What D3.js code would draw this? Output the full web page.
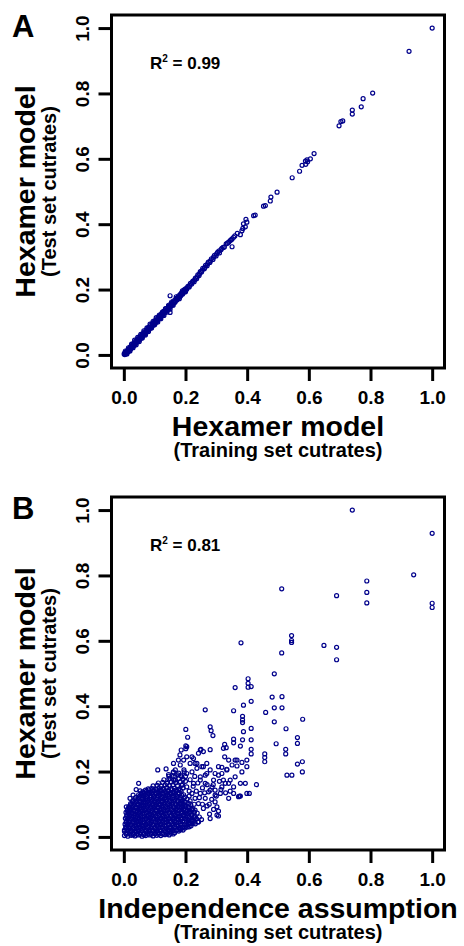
<!DOCTYPE html>
<html>
<head>
<meta charset="utf-8">
<script src="https://cdn.jsdelivr.net/npm/d3@7"></script>
<style>
    body { margin: 0; background: #fff; }
    text { font-family: "Liberation Sans", Arial, Helvetica, sans-serif; font-weight: bold; fill: #000; }
</style>
</head>
<body>
<div id="chart"></div>
<script>
const tickValues = [0, 0.2, 0.4, 0.6, 0.8, 1.0];
const panelLetters = ["A", "B"];
const rSquared = ["0.99", "0.81"];
const xTitles = ["Hexamer model", "Independence assumption"];
const xSubtitle = "(Training set cutrates)";
const yTitle = "Hexamer model";
const ySubtitle = "(Test set cutrates)";

// panel A: [hexamer model on training set, hexamer model on test set]
const hexamerPoints = [
    [0.001,0.003],[0.003,0.001],[0.004,0.007],[0.006,0.003],[0.008,0.010],[0.009,0.005],[0.011,0.008],[0.012,0.014],
    [0.014,0.010],[0.016,0.018],[0.017,0.013],[0.019,0.016],[0.021,0.024],[0.022,0.018],[0.024,0.021],[0.026,0.029],
    [0.027,0.023],[0.029,0.027],[0.031,0.035],[0.033,0.029],[0.035,0.032],[0.036,0.041],[0.038,0.034],[0.040,0.038],
    [0.042,0.046],[0.044,0.040],[0.046,0.043],[0.048,0.052],[0.050,0.046],[0.052,0.049],[0.054,0.058],[0.056,0.051],
    [0.058,0.055],[0.060,0.064],[0.062,0.058],[0.064,0.061],[0.066,0.070],[0.068,0.064],[0.070,0.067],[0.072,0.076],
    [0.075,0.070],[0.077,0.074],[0.079,0.083],[0.081,0.077],[0.083,0.080],[0.086,0.090],[0.088,0.084],[0.090,0.087],
    [0.092,0.096],[0.095,0.091],[0.097,0.094],[0.100,0.104],[0.102,0.097],[0.104,0.101],[0.107,0.111],[0.109,0.105],
    [0.112,0.109],[0.114,0.118],[0.117,0.112],[0.119,0.116],[0.122,0.126],[0.124,0.120],[0.127,0.124],[0.129,0.133],
    [0.132,0.128],[0.134,0.131],[0.137,0.141],[0.140,0.136],[0.142,0.139],[0.145,0.149],[0.148,0.144],[0.150,0.147],
    [0.153,0.157],[0.156,0.152],[0.158,0.155],[0.161,0.165],[0.164,0.160],[0.167,0.163],[0.170,0.173],[0.172,0.168],
    [0.175,0.172],[0.178,0.181],[0.181,0.177],[0.184,0.180],[0.187,0.190],[0.190,0.186],[0.192,0.189],[0.195,0.198],
    [0.198,0.194],[0.201,0.203],
    [0.005,0.012],[0.010,0.003],[0.015,0.022],[0.020,0.012],[0.025,0.033],[0.030,0.022],[0.035,0.045],[0.040,0.031],
    [0.045,0.054],[0.050,0.041],[0.055,0.063],[0.060,0.052],[0.065,0.074],[0.070,0.061],[0.075,0.083],[0.080,0.072],
    [0.085,0.094],[0.090,0.082],[0.095,0.103],[0.100,0.092],[0.105,0.114],[0.110,0.101],[0.115,0.122],[0.120,0.111],
    [0.125,0.131],[0.130,0.121],[0.135,0.142],[0.140,0.131],[0.145,0.152],[0.150,0.140],[0.155,0.162],[0.160,0.152],
    [0.170,0.178],[0.180,0.172],[0.190,0.196],[0.200,0.193],[0.150,0.181],[0.150,0.130],
    [0.003,0.005],[0.007,0.006],[0.013,0.011],[0.018,0.020],[0.023,0.026],[0.028,0.025],[0.032,0.031],[0.037,0.037],
    [0.043,0.042],[0.047,0.048],[0.053,0.054],[0.057,0.057],[0.063,0.065],[0.067,0.066],[0.073,0.072],[0.078,0.079],
    [0.082,0.084],[0.087,0.086],[0.093,0.092],[0.098,0.099],[0.103,0.104],[0.108,0.107],[0.113,0.113],[0.118,0.119],
    [0.123,0.122],[0.128,0.129],[0.133,0.134],[0.138,0.137],[0.143,0.144],[0.147,0.148],[0.152,0.151],[0.157,0.158],
    [0.162,0.161],[0.166,0.168],[0.171,0.170],[0.176,0.177],[0.183,0.185],[0.188,0.187],[0.193,0.193],[0.197,0.200],
    [0.204,0.201],[0.208,0.210],[0.212,0.208],[0.216,0.219],[0.220,0.217],[0.224,0.226],[0.228,0.224],[0.232,0.235],
    [0.236,0.233],[0.240,0.245],[0.244,0.243],[0.248,0.255],[0.252,0.254],[0.256,0.265],[0.261,0.264],[0.265,0.274],
    [0.270,0.273],[0.274,0.284],[0.279,0.283],[0.284,0.294],[0.289,0.292],[0.294,0.305],[0.299,0.303],[0.304,0.314],
    [0.310,0.312],[0.315,0.322],[0.318,0.326],[0.326,0.330],[0.332,0.340],[0.340,0.345],[0.345,0.350],[0.351,0.355],
    [0.206,0.206],[0.214,0.213],[0.222,0.222],[0.230,0.230],[0.238,0.239],[0.246,0.249],[0.254,0.259],[0.263,0.268],
    [0.272,0.279],[0.281,0.288],[0.291,0.299],[0.301,0.309],[0.308,0.318],[0.322,0.329],[0.336,0.342],[0.348,0.352],
    [0.360,0.364],[0.368,0.372],
    [0.351,0.331],[0.356,0.360],[0.378,0.368],[0.383,0.380],[0.386,0.387],[0.394,0.392],[0.388,0.401],[0.399,0.406],
    [0.396,0.415],[0.421,0.426],[0.426,0.428],[0.453,0.455],[0.459,0.457],[0.475,0.471],[0.477,0.483],[0.497,0.498],
    [0.546,0.542],[0.570,0.562],[0.578,0.580],[0.590,0.583],[0.596,0.591],[0.589,0.593],[0.594,0.597],[0.605,0.600],
    [0.617,0.616],[0.698,0.701],[0.704,0.714],[0.710,0.716],[0.741,0.737],[0.741,0.749],[0.770,0.759],[0.776,0.784],
    [0.807,0.801],[0.925,0.929],[1.000,1.000]
];

// panel B: [independence assumption on training set, hexamer model on test set]
const independencePoints = [
    [0.002,0.004],[0.013,0.002],[0.024,0.005],[0.036,0.003],[0.047,0.006],[0.059,0.002],[0.071,0.004],[0.083,0.006],
    [0.095,0.003],[0.107,0.005],[0.120,0.004],[0.133,0.007],[0.147,0.006],[0.160,0.009],
    [0.008,0.008],[0.019,0.009],[0.030,0.007],[0.042,0.009],[0.053,0.008],[0.065,0.007],[0.077,0.009],[0.089,0.008],
    [0.101,0.010],[0.113,0.008],[0.126,0.009],[0.140,0.010],[0.153,0.011],
    [0.007,0.012],[0.018,0.014],[0.030,0.011],[0.041,0.015],[0.053,0.013],[0.065,0.011],[0.077,0.014],[0.089,0.012],
    [0.101,0.015],[0.113,0.013],[0.126,0.011],[0.139,0.014],[0.152,0.016],[0.165,0.013],[0.178,0.018],[0.192,0.021],
    [0.002,0.017],[0.013,0.018],[0.024,0.016],[0.036,0.018],[0.047,0.017],[0.059,0.019],[0.071,0.016],[0.083,0.018],
    [0.095,0.017],[0.107,0.019],[0.119,0.017],[0.132,0.019],[0.145,0.018],[0.158,0.019],[0.171,0.020],[0.185,0.022],
    [0.002,0.021],[0.012,0.023],[0.024,0.020],[0.035,0.024],[0.047,0.022],[0.059,0.025],[0.071,0.021],[0.083,0.023],
    [0.095,0.020],[0.107,0.024],[0.119,0.022],[0.132,0.025],[0.145,0.021],[0.158,0.024],[0.171,0.022],[0.184,0.026],
    [0.198,0.027],[0.212,0.031],
    [0.007,0.026],[0.018,0.027],[0.030,0.025],[0.041,0.027],[0.053,0.026],[0.065,0.028],[0.077,0.025],[0.089,0.027],
    [0.101,0.026],[0.113,0.028],[0.126,0.026],[0.139,0.028],[0.152,0.026],[0.165,0.028],[0.178,0.027],[0.191,0.029],
    [0.205,0.030],
    [0.006,0.030],[0.017,0.032],[0.029,0.029],[0.041,0.033],[0.053,0.031],[0.065,0.034],[0.077,0.030],[0.089,0.032],
    [0.101,0.029],[0.113,0.033],[0.125,0.031],[0.138,0.034],[0.151,0.030],[0.164,0.032],[0.177,0.035],[0.190,0.031],
    [0.204,0.036],[0.218,0.034],[0.232,0.040],
    [0.011,0.035],[0.023,0.036],[0.035,0.034],[0.047,0.036],[0.059,0.035],[0.071,0.037],[0.083,0.034],[0.095,0.036],
    [0.107,0.035],[0.119,0.037],[0.132,0.035],[0.145,0.037],[0.158,0.035],[0.171,0.038],[0.184,0.036],[0.197,0.038],
    [0.211,0.039],[0.225,0.041],
    [0.004,0.039],[0.013,0.041],[0.024,0.038],[0.036,0.042],[0.048,0.040],[0.060,0.043],[0.072,0.039],[0.084,0.041],
    [0.096,0.038],[0.108,0.042],[0.120,0.040],[0.132,0.043],[0.145,0.039],[0.158,0.041],[0.171,0.044],[0.184,0.040],
    [0.197,0.045],[0.210,0.042],[0.224,0.047],[0.240,0.046],
    [0.008,0.044],[0.018,0.045],[0.030,0.043],[0.042,0.045],[0.054,0.044],[0.066,0.046],[0.078,0.043],[0.090,0.045],
    [0.102,0.044],[0.114,0.046],[0.126,0.044],[0.139,0.046],[0.152,0.044],[0.165,0.046],[0.178,0.045],[0.191,0.047],
    [0.204,0.046],[0.218,0.048],
    [0.008,0.048],[0.019,0.050],[0.030,0.047],[0.042,0.051],[0.054,0.049],[0.066,0.052],[0.078,0.048],[0.090,0.050],
    [0.102,0.047],[0.114,0.051],[0.126,0.049],[0.139,0.052],[0.152,0.048],[0.165,0.050],[0.178,0.053],[0.191,0.049],
    [0.205,0.054],[0.219,0.051],[0.236,0.055],[0.252,0.053],
    [0.013,0.053],[0.024,0.054],[0.036,0.052],[0.048,0.054],[0.060,0.053],[0.072,0.055],[0.084,0.052],[0.096,0.054],
    [0.108,0.053],[0.120,0.055],[0.133,0.053],[0.146,0.055],[0.159,0.053],[0.172,0.056],[0.185,0.054],[0.198,0.056],
    [0.212,0.055],[0.228,0.058],
    [0.005,0.057],[0.014,0.059],[0.025,0.056],[0.037,0.060],[0.049,0.058],[0.061,0.061],[0.073,0.057],[0.085,0.059],
    [0.097,0.056],[0.109,0.060],[0.121,0.058],[0.133,0.061],[0.146,0.057],[0.159,0.059],[0.172,0.062],[0.185,0.058],
    [0.198,0.063],[0.212,0.060],[0.228,0.064],[0.245,0.061],
    [0.009,0.062],[0.019,0.063],[0.031,0.061],[0.043,0.063],[0.055,0.062],[0.067,0.064],[0.079,0.061],[0.091,0.063],
    [0.103,0.062],[0.115,0.064],[0.127,0.062],[0.140,0.064],[0.153,0.062],[0.166,0.064],[0.179,0.063],[0.192,0.065],
    [0.206,0.064],[0.220,0.066],
    [0.010,0.066],[0.020,0.068],[0.031,0.065],[0.043,0.069],[0.055,0.067],[0.067,0.070],[0.079,0.066],[0.091,0.068],
    [0.103,0.065],[0.115,0.069],[0.127,0.067],[0.140,0.070],[0.153,0.066],[0.166,0.068],[0.179,0.071],[0.192,0.067],
    [0.206,0.072],[0.221,0.069],[0.238,0.073],
    [0.015,0.071],[0.026,0.072],[0.037,0.070],[0.049,0.072],[0.061,0.071],[0.073,0.073],[0.085,0.070],[0.097,0.072],
    [0.109,0.071],[0.121,0.073],[0.134,0.071],[0.147,0.073],[0.160,0.071],[0.173,0.074],[0.186,0.072],[0.199,0.074],
    [0.213,0.073],[0.229,0.076],
    [0.007,0.075],[0.016,0.077],[0.026,0.074],[0.038,0.078],[0.050,0.076],[0.062,0.079],[0.074,0.075],[0.086,0.077],
    [0.098,0.074],[0.110,0.078],[0.122,0.076],[0.134,0.079],[0.147,0.075],[0.160,0.077],[0.173,0.080],[0.186,0.076],
    [0.200,0.081],[0.215,0.078],[0.231,0.082],
    [0.011,0.080],[0.021,0.081],[0.032,0.079],[0.044,0.081],[0.056,0.080],[0.068,0.082],[0.080,0.079],[0.092,0.081],
    [0.104,0.080],[0.116,0.082],[0.128,0.080],[0.141,0.082],[0.154,0.080],[0.167,0.082],[0.180,0.081],[0.193,0.083],
    [0.207,0.082],[0.222,0.084],
    [0.012,0.084],[0.022,0.086],[0.033,0.083],[0.045,0.087],[0.057,0.085],[0.069,0.088],[0.081,0.084],[0.093,0.086],
    [0.105,0.083],[0.117,0.087],[0.129,0.085],[0.142,0.088],[0.155,0.084],[0.168,0.086],[0.181,0.089],[0.194,0.085],
    [0.208,0.090],[0.224,0.087],
    [0.017,0.089],[0.028,0.090],[0.039,0.088],[0.051,0.090],[0.063,0.089],[0.075,0.091],[0.087,0.088],[0.099,0.090],
    [0.111,0.089],[0.123,0.091],[0.136,0.089],[0.149,0.091],[0.162,0.089],[0.175,0.092],[0.188,0.090],[0.201,0.092],
    [0.016,0.093],[0.028,0.095],[0.040,0.092],[0.052,0.096],[0.064,0.094],[0.076,0.097],[0.088,0.093],[0.100,0.095],
    [0.112,0.092],[0.124,0.096],[0.136,0.094],[0.149,0.097],[0.162,0.093],[0.175,0.095],[0.188,0.098],[0.202,0.094],
    [0.217,0.099],
    [0.022,0.098],[0.034,0.099],[0.046,0.097],[0.058,0.099],[0.070,0.098],[0.082,0.100],[0.094,0.097],[0.106,0.099],
    [0.118,0.098],[0.130,0.100],[0.143,0.098],[0.156,0.100],[0.169,0.098],[0.182,0.101],[0.196,0.099],
    [0.022,0.102],[0.034,0.104],[0.046,0.101],[0.058,0.105],[0.070,0.103],[0.082,0.106],[0.094,0.102],[0.106,0.104],
    [0.118,0.101],[0.130,0.105],[0.143,0.103],[0.156,0.106],[0.169,0.102],[0.182,0.104],[0.196,0.107],[0.211,0.103],
    [0.028,0.107],[0.040,0.108],[0.052,0.106],[0.064,0.108],[0.076,0.107],[0.088,0.109],[0.100,0.106],[0.112,0.108],
    [0.124,0.107],[0.136,0.109],[0.149,0.107],[0.162,0.109],[0.175,0.107],[0.189,0.110],
    [0.030,0.111],[0.041,0.113],[0.053,0.110],[0.065,0.114],[0.077,0.112],[0.089,0.115],[0.101,0.111],[0.113,0.113],
    [0.125,0.110],[0.137,0.114],[0.150,0.112],[0.163,0.115],[0.176,0.111],[0.190,0.113],[0.205,0.116],
    [0.036,0.116],[0.047,0.117],[0.059,0.115],[0.071,0.117],[0.083,0.116],[0.095,0.118],[0.107,0.115],[0.119,0.117],
    [0.131,0.116],[0.144,0.118],[0.157,0.116],[0.170,0.118],[0.184,0.116],
    [0.038,0.120],[0.049,0.122],[0.061,0.119],[0.073,0.123],[0.085,0.121],[0.097,0.124],[0.109,0.120],[0.121,0.122],
    [0.133,0.119],[0.145,0.123],[0.158,0.121],[0.171,0.124],[0.184,0.120],[0.198,0.122],
    [0.052,0.125],[0.064,0.126],[0.076,0.124],[0.088,0.126],[0.100,0.125],[0.112,0.127],[0.124,0.124],[0.136,0.126],
    [0.148,0.125],[0.161,0.127],[0.174,0.125],[0.188,0.127],
    [0.048,0.129],[0.058,0.131],[0.070,0.128],[0.082,0.132],[0.094,0.130],[0.106,0.133],[0.118,0.129],[0.130,0.131],
    [0.142,0.128],[0.154,0.132],[0.167,0.130],[0.180,0.133],[0.194,0.129],
    [0.056,0.134],[0.066,0.135],[0.078,0.133],[0.090,0.135],[0.102,0.134],[0.114,0.136],[0.126,0.133],[0.138,0.135],
    [0.150,0.134],[0.163,0.136],[0.176,0.134],
    [0.062,0.138],[0.074,0.140],[0.086,0.137],[0.098,0.141],[0.110,0.139],[0.122,0.142],[0.134,0.138],[0.146,0.140],
    [0.159,0.137],[0.172,0.141],[0.186,0.139],
    [0.070,0.143],[0.082,0.144],[0.094,0.142],[0.106,0.144],[0.118,0.143],[0.130,0.145],[0.143,0.142],[0.156,0.144],
    [0.169,0.143],
    [0.079,0.147],[0.091,0.149],[0.103,0.146],[0.115,0.150],[0.127,0.148],[0.139,0.151],[0.152,0.147],[0.165,0.149],
    [0.178,0.146],[0.192,0.150],
    [0.095,0.156],[0.108,0.158],[0.121,0.155],[0.134,0.159],[0.147,0.157],[0.160,0.160],[0.174,0.156],[0.188,0.158],
    [0.112,0.165],[0.126,0.167],[0.140,0.164],[0.154,0.168],[0.168,0.166],[0.183,0.169],
    [0.130,0.175],[0.146,0.177],[0.162,0.174],[0.178,0.178],[0.192,0.176],
    [0.146,0.186],[0.166,0.184],[0.184,0.188],[0.200,0.185],[0.160,0.197],[0.178,0.195],[0.196,0.199],
    [0.008,0.092],[0.020,0.118],[0.030,0.128],[0.040,0.145],[0.048,0.164],[0.053,0.141],
    [0.110,0.205],[0.137,0.208],[0.145,0.191],[0.161,0.199],[0.177,0.235],[0.182,0.251],[0.186,0.266],[0.204,0.276],
    [0.204,0.245],[0.215,0.225],[0.248,0.266],
    [0.215,0.110],[0.228,0.100],[0.235,0.140],[0.212,0.125],[0.225,0.155],[0.240,0.165],[0.255,0.150],[0.262,0.135],
    [0.270,0.160],[0.245,0.120],[0.255,0.100],[0.270,0.095],[0.285,0.115],[0.300,0.125],[0.290,0.160],[0.310,0.170],
    [0.315,0.145],[0.330,0.135],[0.345,0.140],[0.200,0.170],[0.215,0.175],[0.230,0.185],[0.190,0.160],[0.175,0.190],
    [0.195,0.205],[0.160,0.185],[0.212,0.140],
    [0.188,0.092],[0.199,0.107],[0.210,0.092],[0.204,0.077],[0.221,0.082],[0.231,0.061],[0.242,0.046],[0.221,0.041],
    [0.210,0.051],[0.194,0.067],
    [0.280,0.056],[0.278,0.070],[0.302,0.067],[0.307,0.079],[0.291,0.084],[0.258,0.087],[0.242,0.102],[0.231,0.118],
    [0.248,0.133],[0.221,0.133],[0.264,0.118],[0.275,0.138],[0.296,0.143],[0.318,0.153],[0.329,0.164],[0.345,0.174],
    [0.361,0.184],[0.378,0.164],[0.394,0.164],[0.372,0.123],[0.356,0.133],[0.340,0.118],
    [0.277,0.100],[0.302,0.092],[0.307,0.064],[0.296,0.107],
    [0.150,0.179],[0.167,0.174],[0.188,0.184],[0.204,0.194],[0.221,0.199],[0.237,0.210],[0.253,0.215],[0.269,0.225],
    [0.280,0.205],[0.264,0.189],[0.248,0.174],[0.226,0.164],[0.204,0.153],[0.183,0.143],[0.296,0.194],[0.307,0.215],
    [0.318,0.194],[0.334,0.205],[0.340,0.235],[0.351,0.220],[0.367,0.235],[0.383,0.199],[0.399,0.215],[0.167,0.205],
    [0.183,0.220],[0.161,0.225],[0.194,0.235],[0.221,0.245],[0.242,0.256],[0.258,0.261],[0.231,0.225],
    [0.323,0.271],[0.327,0.245],[0.361,0.235],[0.399,0.235],[0.383,0.228],[0.367,0.217],[0.334,0.207],[0.318,0.213],
    [0.307,0.189],[0.323,0.174],[0.340,0.164],[0.313,0.133],[0.356,0.153],[0.375,0.125],[0.291,0.174],[0.286,0.153],
    [0.269,0.194],[0.258,0.215],[0.237,0.225],[0.226,0.240],[0.248,0.184],[0.264,0.164],[0.280,0.143],[0.296,0.128],
    [0.250,0.268],[0.201,0.279],[0.201,0.270],[0.280,0.267],[0.201,0.329],[0.207,0.305],[0.280,0.337],[0.283,0.325],
    [0.289,0.310],[0.264,0.389],[0.356,0.299],[0.356,0.288],[0.327,0.283],[0.332,0.273],[0.385,0.297],[0.413,0.297],
    [0.378,0.278],[0.413,0.268],[0.413,0.254],[0.430,0.160],[0.399,0.133],[0.378,0.125],[0.407,0.133],
    [0.457,0.254],[0.457,0.243],[0.457,0.230],[0.494,0.285],[0.525,0.268],[0.525,0.254],[0.529,0.189],[0.545,0.189],
    [0.579,0.199],[0.579,0.230],[0.563,0.223],[0.563,0.304],[0.563,0.286],[0.526,0.331],[0.580,0.360],
    [0.385,0.369],[0.385,0.358],[0.385,0.350],[0.413,0.332],[0.388,0.322],[0.488,0.352],[0.356,0.386],[0.388,0.403],
    [0.413,0.415],[0.460,0.381],[0.488,0.395],[0.513,0.395],[0.481,0.428],[0.513,0.429],[0.361,0.457],[0.403,0.484],
    [0.403,0.470],[0.403,0.458],[0.413,0.460],[0.488,0.499],[0.512,0.563],[0.380,0.594],[0.544,0.616],[0.544,0.601],
    [0.544,0.595],[0.649,0.586],[0.690,0.580],[0.690,0.542],[0.690,0.738],[0.512,0.759],[0.788,0.783],[0.788,0.748],
    [0.788,0.716],[0.940,0.802],[1.000,0.715],[1.000,0.702],[1.000,0.929],[0.741,1.000]
];

const width = 464;
const height = 946;
const svg = d3.select("#chart").append("svg")
    .attr("width", width)
    .attr("height", height);

function drawPanel(top, letter, r2, xTitle, points) {
    const box = { left: 111.5, right: 444.5, top: top, bottom: top + 353 };
    const midX = (box.left + box.right) / 2;
    const midY = (box.top + box.bottom) / 2;

    // R pads the range by 4% on each side
    const x = d3.scaleLinear().domain([-0.04, 1.04]).range([box.left, box.right]);
    const y = d3.scaleLinear().domain([-0.04, 1.04]).range([box.bottom, box.top]);

    const g = svg.append("g");

    g.append("g")
        .selectAll("circle")
        .data(points)
        .enter().append("circle")
        .attr("cx", d => x(d[0]))
        .attr("cy", d => y(d[1]))
        .attr("r", 2)
        .attr("fill", "none")
        .attr("stroke", "#00008b")
        .attr("stroke-width", 1.2);

    g.append("rect")
        .attr("x", box.left)
        .attr("y", box.top)
        .attr("width", box.right - box.left)
        .attr("height", box.bottom - box.top)
        .attr("fill", "none")
        .attr("stroke", "#000")
        .attr("stroke-width", 3);

    // bottom axis
    const xAxis = g.append("g")
        .attr("transform", `translate(0,${box.bottom})`)
        .call(d3.axisBottom(x).tickValues(tickValues).tickFormat(d3.format(".1f")).tickSize(13));
    xAxis.select(".domain").remove();
    xAxis.selectAll("line").attr("stroke", "#000").attr("stroke-width", 3);
    xAxis.selectAll("text")
        .attr("y", 36)
        .attr("dy", null)
        .style("font-size", "19px");

    // left axis, labels turned parallel to the axis
    const yAxis = g.append("g")
        .attr("transform", `translate(${box.left},0)`)
        .call(d3.axisLeft(y).tickValues(tickValues).tickFormat(d3.format(".1f")).tickSize(13));
    yAxis.select(".domain").remove();
    yAxis.selectAll("line").attr("stroke", "#000").attr("stroke-width", 3);
    yAxis.selectAll("text")
        .attr("x", 0)
        .attr("y", -23)
        .attr("dy", null)
        .attr("text-anchor", "middle")
        .attr("transform", "rotate(-90)")
        .style("font-size", "19px");

    g.append("text")
        .attr("x", 12)
        .attr("y", top + 21.7)
        .style("font-size", "31px")
        .text(letter);

    const r2Text = g.append("text")
        .attr("x", 150)
        .attr("y", top + 54)
        .style("font-size", "17px");
    r2Text.append("tspan").text("R");
    r2Text.append("tspan").attr("dy", -7).style("font-size", "10px").text("2");
    r2Text.append("tspan").attr("dy", 7).text(" = " + r2);

    g.append("text")
        .attr("x", midX)
        .attr("y", box.bottom + 68)
        .attr("text-anchor", "middle")
        .style("font-size", "28.5px")
        .text(xTitle);

    g.append("text")
        .attr("x", midX)
        .attr("y", box.bottom + 89)
        .attr("text-anchor", "middle")
        .style("font-size", "20px")
        .text(xSubtitle);

    g.append("text")
        .attr("transform", `translate(35,${midY}) rotate(-90)`)
        .attr("text-anchor", "middle")
        .style("font-size", "28.5px")
        .text(yTitle);

    g.append("text")
        .attr("transform", `translate(56,${midY}) rotate(-90)`)
        .attr("text-anchor", "middle")
        .style("font-size", "20px")
        .text(ySubtitle);
}

drawPanel(15, panelLetters[0], rSquared[0], xTitles[0], hexamerPoints);
drawPanel(497, panelLetters[1], rSquared[1], xTitles[1], independencePoints);
</script>
</body>
</html>
